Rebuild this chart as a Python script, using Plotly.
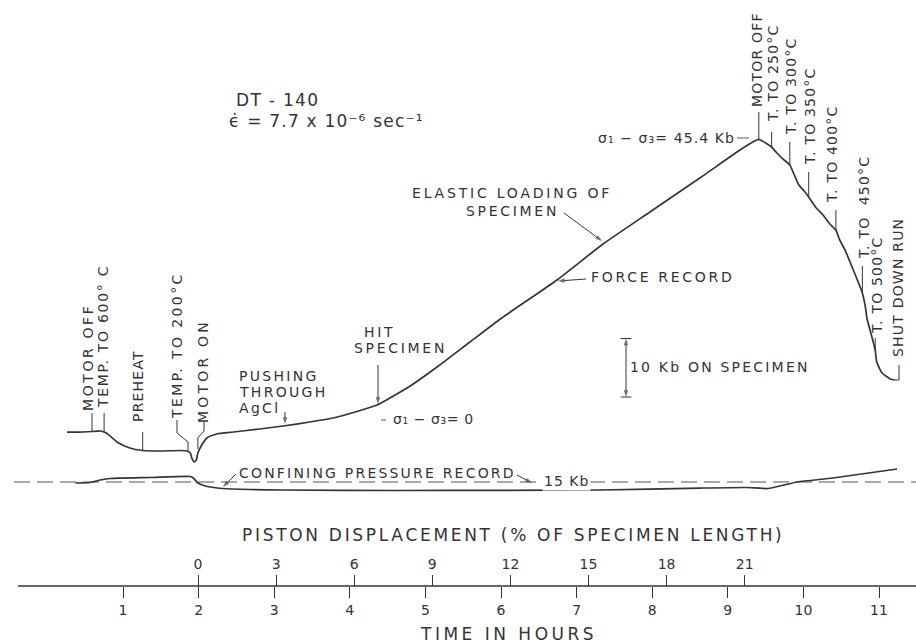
import numpy as np
import plotly.graph_objects as go

# ---------------- data ----------------
# Force record: time in hours, differential stress in Kb
force_time = [0.26, 0.43, 0.59, 0.70, 0.78, 0.92, 1.09, 1.26, 1.49, 1.75, 1.85, 1.89,
              1.91, 1.94, 1.97, 1.99, 2.05, 2.11, 2.24, 2.46, 2.81, 3.12, 3.47, 3.78,
              4.07, 4.36, 4.53, 4.80, 5.19, 5.59, 6.01, 6.74, 7.35, 7.97, 8.63, 9.16,
              9.33, 9.41, 9.50, 9.58, 9.65, 9.73, 9.82, 9.88, 9.94, 10.01, 10.07, 10.17,
              10.26, 10.35, 10.43, 10.48, 10.55, 10.66, 10.78, 10.82, 10.84, 10.91, 10.95,
              10.97, 11.04, 11.15, 11.21]
force_kb = [-4.62, -4.62, -4.53, -4.44, -4.79, -6.32, -7.35, -7.78, -7.86, -7.78, -7.86, -8.21,
            -9.06, -9.74, -9.40, -8.21, -6.67, -5.64, -4.96, -4.62, -4.10, -3.59, -2.91, -2.22,
            -1.20, 0.00, 1.20, 3.25, 6.84, 10.77, 14.87, 21.37, 27.52, 32.99, 38.80, 43.59,
            44.96, 45.40, 44.79, 44.10, 43.08, 42.05, 41.03, 39.32, 37.61, 36.58, 35.56, 33.68,
            32.48, 30.94, 29.91, 28.21, 26.50, 23.08, 19.15, 16.75, 14.87, 11.45, 9.40,
            7.35, 5.47, 4.44, 4.27]

# Confining pressure record: time in hours, pressure in Kb
conf_time = [0.37, 0.56, 0.70, 0.83, 1.36, 1.89, 1.93, 1.99, 2.09, 2.32, 2.68, 3.12,
             4.66, 5.99, 7.31, 8.63, 9.25, 9.53, 9.92, 10.39, 11.24]
conf_kb = [14.83, 14.91, 15.34, 15.60, 15.77, 15.94, 15.68, 14.83, 14.32, 13.89, 13.72, 13.63,
           13.55, 13.58, 13.63, 13.97, 14.06, 13.89, 15.00, 15.68, 17.22]
conf_ref_kb = 15.0

time_ticks = [1, 2, 3, 4, 5, 6, 7, 8, 9, 10, 11]
disp_ticks = [0, 3, 6, 9, 12, 15, 18, 21]

# events on the force record (time of event, top of tick in Kb)
left_event_time = [0.59, 0.75, 1.26]
left_event_top = [-1.37, -1.37, -4.62]
right_event_time = [9.41, 9.58, 9.82, 10.07, 10.43, 10.78, 10.95]
right_event_top = [50.09, 46.67, 44.96, 39.83, 33.33, 23.76, 11.45]

# ---------------- geometry of the page ----------------
W, H = 916, 643
px_h0, px_per_h = 47.4, 75.6          # time axis pixel mapping
px_kb0, px_per_kb = 405.0, 5.85       # force record pixel mapping
px_p15 = 482.0                        # confining record: 15 Kb line
px_d0, px_per_3pct = 198.0, 78.1      # piston displacement axis
axis_px = 586.0

def hx(px):
    return (px - px_h0) / px_per_h

def ky(py):
    return (px_kb0 - py) / px_per_kb

def py2(py):
    return conf_ref_kb + (px_p15 - py) / px_per_kb

INK = "#333333"
LINE = "#353535"
FONT = "DejaVu Sans"

def sp(t, ls=1.5):
    return '<span style="letter-spacing:%spx">%s</span>' % (ls, t)

fig = go.Figure()

def line(x, y, w=1.0, yaxis="y", dash=None, color=LINE, smooth=True):
    ln = dict(color=color, width=w, dash=dash)
    if smooth:
        ln.update(shape="spline", smoothing=0.5)
    fig.add_trace(go.Scatter(x=x, y=y, mode="lines", yaxis=yaxis, hoverinfo="skip",
                             showlegend=False, line=ln))

def arrow(x0, y0, x1, y1, yaxis="y", size=8):
    fig.add_trace(go.Scatter(x=[x0, x1], y=[y0, y1], yaxis=yaxis, mode="lines+markers",
                             hoverinfo="skip", showlegend=False,
                             line=dict(color=LINE, width=1.0),
                             marker=dict(symbol="arrow", size=[0, size], angleref="previous",
                                         color=LINE, line=dict(width=0))))

# dashed 15 Kb reference
line([hx(14), hx(916)], [conf_ref_kb, conf_ref_kb], w=1.0, yaxis="y2",
     dash="16px,7px", color="#555555", smooth=False)
# records
line(conf_time, conf_kb, w=1.7, yaxis="y2")
line(force_time, force_kb, w=1.7)

# event tick marks
for t, top in zip(left_event_time + right_event_time, left_event_top + right_event_top):
    base = float(np.interp(t, force_time, force_kb))
    line([t, t], [base, top], w=1.0, smooth=False)
# dog-leg leaders
t200 = [hx(177), hx(177), 1.86, 1.86]
k200 = [ky(420), ky(433), ky(442), float(np.interp(1.86, force_time, force_kb))]
ton = [hx(204), hx(204), 1.99, 1.99]
kon = [ky(422), ky(431), ky(438), ky(449)]
tend = [force_time[-1], hx(899), hx(899)]
kend = [force_kb[-1], force_kb[-1], ky(365)]
for xs, ys in [(t200, k200), (ton, kon), (tend, kend)]:
    line(xs, ys, w=1.0, smooth=False)
# short leaders beside the stress labels
line([hx(737), hx(749)], [ky(138), ky(138)], w=0.8, smooth=False)
line([hx(381), hx(386)], [ky(420), ky(420)], w=0.8, smooth=False)

# 10 Kb scale bar
bar_t = hx(626)
bar_lo = ky(397)
bar_hi = bar_lo + 10
cap = 0.07
for yy in (bar_lo, bar_hi):
    line([bar_t - cap, bar_t + cap], [yy, yy], w=1.0, smooth=False)
arrow(bar_t, bar_lo + 5, bar_t, bar_hi, size=7)
arrow(bar_t, bar_lo + 5, bar_t, bar_lo, size=7)

# leader arrows
arrow(hx(285), ky(412), hx(285), ky(424), size=7)
arrow(hx(378), ky(365), hx(378), ky(404), size=7)
arrow(hx(564), ky(213), hx(602), ky(241), size=7)
arrow(hx(586), ky(279), hx(558), ky(281), size=7)
arrow(hx(236), py2(474), hx(223), py2(487), yaxis="y2", size=7)
arrow(hx(517), py2(475), hx(532), py2(483), yaxis="y2", size=7)

ann = []

def txt(x, y, t, xanchor="left", yref="y", size=14, angle=0, ls=1.5, bg=None):
    d = dict(x=x, y=y, xref="x", yref=yref, text=sp(t, ls), showarrow=False,
             xanchor=xanchor, yanchor="middle", textangle=angle,
             font=dict(family=FONT, size=size, color=INK))
    if bg:
        d["bgcolor"] = bg
        d["borderpad"] = 1
    ann.append(d)

# rotated event labels (label, centre x px, centre y px, letter spacing)
rot_labels = [
    ("MOTOR OFF", 88, 358, 2.6), ("TEMP. TO 600° C", 103, 337, 1.7),
    ("PREHEAT", 138, 386, 1.2), ("TEMP. TO 200°C", 177, 346, 2.4), ("MOTOR ON", 203, 371, 3.2),
    ("MOTOR OFF", 757, 60, 1.2), ("T. TO 250°C", 773, 73, 1.2), ("T. TO 300°C", 791, 86, 1.2),
    ("T. TO 350°C", 810, 116, 1.2), ("T. TO 400°C", 832, 154, 1.2),
    ("T. TO  450°C", 864, 208, 1.2), ("T. TO 500°C", 877, 285, 1.2),
    ("SHUT DOWN RUN", 898, 288, 1.2),
]
for t, px, py, ls in rot_labels:
    txt(hx(px), ky(py), t, xanchor="center", angle=-90, size=14, ls=ls)

# other labels
txt(hx(234), ky(100), "DT - 140", size=17, ls=1.3)
txt(hx(227), ky(121), "ϵ̇ = 7.7 x 10⁻⁶ sec⁻¹", size=17, ls=1.2)
txt(hx(512), ky(193), "ELASTIC LOADING OF", xanchor="center", size=14, ls=2.8)
txt(hx(512), ky(211), "SPECIMEN", xanchor="center", size=14, ls=2.7)
txt(hx(589), ky(277), "FORCE RECORD", size=14, ls=2.7)
txt(hx(596), ky(138), "σ₁ − σ₃= 45.4 Kb", size=14, ls=1.1)
txt(hx(391), ky(419), "σ₁ − σ₃= 0", size=14, ls=0.6)
txt(hx(237), ky(376), "PUSHING", size=14, ls=2.3)
txt(hx(237), ky(392), "THROUGH", size=14, ls=2.3)
txt(hx(237), ky(408), "AgCl", size=14, ls=2.3)
txt(hx(362), ky(332), "HIT", size=14, ls=2.7)
txt(hx(352), ky(348), "SPECIMEN", size=14, ls=2.7)
txt(hx(628), ky(367), "10 Kb ON SPECIMEN", size=14, ls=2.2)
txt(hx(237), py2(473), "CONFINING PRESSURE RECORD", yref="y2", size=14, ls=2.2)
txt(hx(542), py2(481), "15 Kb", yref="y2", size=14, ls=1.0, bg="white")
txt(hx(513), ky(535), "PISTON DISPLACEMENT (% OF SPECIMEN LENGTH)", xanchor="center",
    size=17, ls=2.7)
txt(hx(508), ky(634), "TIME IN HOURS", xanchor="center", size=17, ls=3.5)

axis_pos = (H - axis_px) / H
shapes = [dict(type="line", xref="x", yref="paper", x0=hx(18), x1=hx(916),
               y0=axis_pos, y1=axis_pos, line=dict(color=LINE, width=1.4))]

fig.update_layout(
    width=W, height=H, margin=dict(l=0, r=0, t=0, b=0),
    paper_bgcolor="white", plot_bgcolor="white",
    showlegend=False, annotations=ann, shapes=shapes,
    xaxis=dict(range=[hx(0), hx(W)], domain=[0, 1], anchor="free", position=axis_pos,
               showgrid=False, zeroline=False, showline=False,
               tickmode="array", tickvals=time_ticks, ticktext=[str(v) for v in time_ticks],
               ticks="outside", ticklen=11, tickwidth=1.1, tickcolor=LINE,
               tickfont=dict(family=FONT, size=14, color=INK), automargin=False,
               fixedrange=True),
    xaxis2=dict(range=[(0 - px_d0) / px_per_3pct * 3, (W - px_d0) / px_per_3pct * 3],
                overlaying="x", anchor="free", position=axis_pos, side="top",
                showgrid=False, zeroline=False, showline=False,
                tickmode="array", tickvals=disp_ticks, ticktext=[str(v) for v in disp_ticks],
                ticks="outside", ticklen=11, tickwidth=1.1, tickcolor=LINE,
                tickfont=dict(family=FONT, size=14, color=INK), automargin=False,
                fixedrange=True),
    yaxis=dict(range=[ky(H), ky(0)], visible=False, fixedrange=True),
    yaxis2=dict(range=[py2(H), py2(0)], overlaying="y", visible=False, fixedrange=True),
)
# invisible trace to activate xaxis2
fig.add_trace(go.Scatter(x=[disp_ticks[0]], y=[0], xaxis="x2", mode="markers",
                         marker=dict(opacity=0), hoverinfo="skip", showlegend=False))

fig.write_html("out.html", config={"displayModeBar": False},
               post_script="document.body.style.margin='0';"
                           "document.body.style.overflow='hidden';")
